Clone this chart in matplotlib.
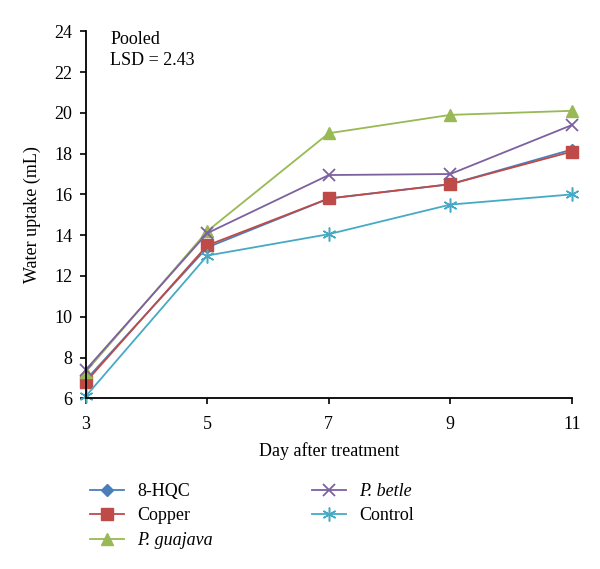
import matplotlib
matplotlib.use("Agg")
import matplotlib.pyplot as plt

days = [3, 5, 7, 9, 11]
hqc = [6.9, 13.4, 15.8, 16.5, 18.2]
copper = [6.8, 13.5, 15.8, 16.5, 18.1]
guajava = [7.3, 14.2, 19.0, 19.9, 20.1]
betle = [7.4, 14.1, 16.95, 17.0, 19.4]
control = [6.1, 13.0, 14.05, 15.5, 16.0]

plt.rcParams['font.family'] = ['Liberation Serif', 'DejaVu Serif']
plt.rcParams['font.size'] = 13

fig = plt.figure(figsize=(6, 5.69), dpi=100)
ax = fig.add_axes([0.143, 0.300, 0.810, 0.645])

# draw order so that copper sits on top of 8-HQC
l1, = ax.plot(days, hqc, color='#4a7ebb', marker='D', markersize=6, lw=1.3, label='8-HQC')
l2, = ax.plot(days, copper, color='#be4b48', marker='s', markersize=8, lw=1.3, label='Copper')
l3, = ax.plot(days, guajava, color='#98b954', marker='^', markersize=9, lw=1.3, label='P. guajava')
l4, = ax.plot(days, betle, color='#7d60a0', marker='x', markersize=9, mew=1.3, lw=1.3, label='P. betle')
l5, = ax.plot(days, control, color='#46aac5', marker=(6, 2, 0), markersize=10, mew=1.1, lw=1.3, label='Control')

ax.set_xlim(3, 11)
ax.set_ylim(6, 24)
ax.set_xticks(days)
ax.set_yticks(range(6, 25, 2))
ax.spines['top'].set_visible(False)
ax.spines['right'].set_visible(False)
ax.tick_params(direction='out', width=1.2, labelsize=13)
ax.tick_params(axis='x', length=4, pad=9)
ax.tick_params(axis='y', length=4.5, pad=5)
for s in ('left', 'bottom'):
    ax.spines[s].set_linewidth(1.3)
for m in ax.lines:
    m.set_clip_on(False)

ax.set_xlabel('Day after treatment', fontsize=13, labelpad=6)
ax.set_ylabel('Water uptake (mL)', fontsize=13, labelpad=10)
ax.text(0.05, 1.0, 'Pooled\nLSD = 2.43', transform=ax.transAxes, va='top', ha='left', fontsize=13, linespacing=1.25)

leg = fig.legend(handles=[l1, l2, l3, l4, l5], loc='upper left', bbox_to_anchor=(0.123, 0.18),
                 ncol=2, frameon=False, fontsize=13, handlelength=1.9, columnspacing=5.5,
                 labelspacing=0.42, handletextpad=0.7)
for t in leg.get_texts():
    if t.get_text().startswith('P.'):
        t.set_fontstyle('italic')

fig.savefig('out.png', dpi=100)
